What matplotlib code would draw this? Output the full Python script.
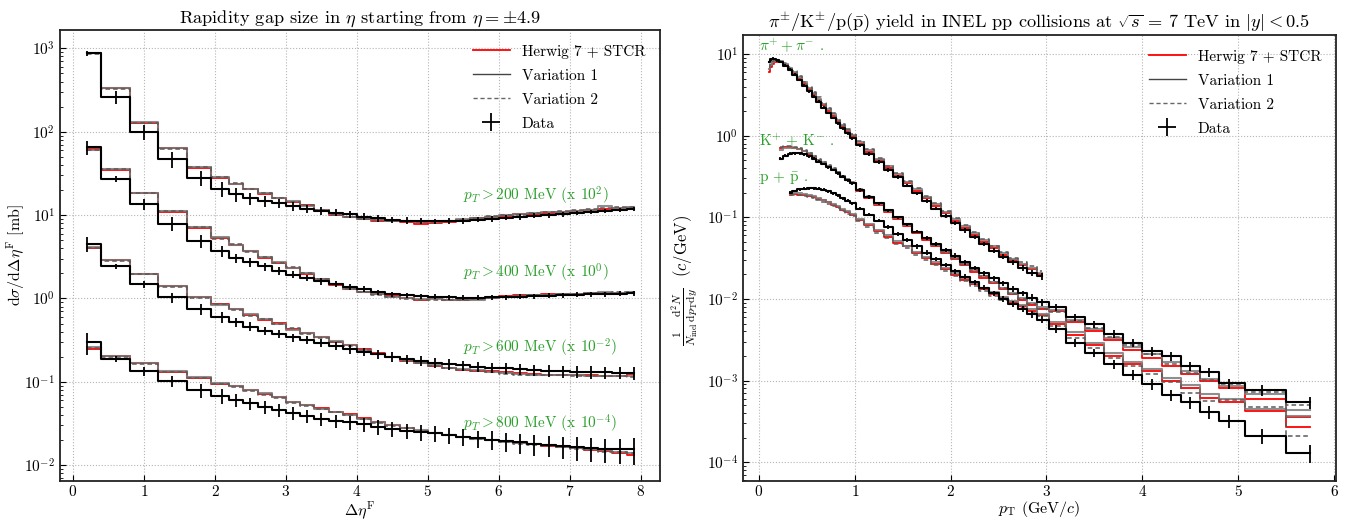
import matplotlib
matplotlib.use("Agg")
import matplotlib.pyplot as plt
from matplotlib.lines import Line2D
import numpy as np

plt.rcParams.update({
    'font.family': 'serif',
    'font.serif': ['cmr10'],
    'mathtext.fontset': 'cm',
    'axes.formatter.use_mathtext': True,
    'axes.unicode_minus': False,
})

# ---------------- left panel data ----------------
eta_centers = [0.2, 0.6, 1.0, 1.4, 1.8, 2.1, 2.3, 2.5, 2.7, 2.9, 3.1, 3.3, 3.5, 3.7, 3.9,
               4.1, 4.3, 4.5, 4.7, 4.9, 5.1, 5.3, 5.5, 5.7, 5.9, 6.1, 6.3, 6.5, 6.7, 6.9,
               7.1, 7.3, 7.5, 7.7, 7.9]

pt200_data = [870, 260, 100, 47, 28, 20.7, 17.7, 15.9, 14.8, 13.8, 12.8, 11.9, 11.2, 10.7, 10.2,
              9.6, 9.1, 8.8, 8.6, 8.5, 8.4, 8.5, 8.6, 8.8, 9.0, 9.3, 9.5, 9.8, 10.0, 10.3,
              10.6, 10.9, 11.2, 11.5, 11.8]
pt200_err = [0.08, 0.17, 0.21, 0.22, 0.2, 0.2, 0.18, 0.16, 0.15, 0.13, 0.12, 0.12, 0.11, 0.1, 0.1,
             0.1, 0.09, 0.09, 0.09, 0.09, 0.08, 0.08, 0.08, 0.07, 0.07, 0.07, 0.07, 0.07, 0.07, 0.07,
             0.06, 0.06, 0.06, 0.06, 0.06]
pt200_herwig = [880, 330, 128, 63, 37, 28, 23.5, 20.4, 18, 15.9, 14.4, 13.2, 11.4, 10.0, 9.5,
                8.9, 8.6, 8.5, 8.3, 7.9, 8.1, 8.3, 8.8, 9.3, 9.5, 9.8, 10.2, 10.3, 10.5, 10.9,
                11.3, 11.6, 11.8, 12.0, 12.2]
pt200_var1 = [870, 335, 130, 64, 38, 28.5, 23.8, 20.6, 18.2, 16.2, 14.6, 13.0, 11.6, 10.3, 9.6,
              9.0, 8.8, 8.6, 8.5, 8.3, 8.3, 8.5, 8.9, 9.2, 9.6, 10.0, 10.3, 10.6, 10.8, 11.0,
              11.3, 11.5, 13.0, 12.2, 12.4]
pt200_var2 = [860, 325, 126, 62, 37.5, 28.8, 24, 20.8, 18.3, 16, 14.5, 13.1, 11.5, 10.1, 9.5,
              8.9, 8.7, 8.6, 8.4, 8.2, 8.2, 8.4, 8.8, 9.2, 9.7, 9.9, 10.1, 10.5, 10.9, 11.2,
              11.5, 11.8, 12.1, 12.5, 12.5]

pt400_data = [65, 27.4, 13.7, 7.9, 4.9, 3.7, 3.06, 2.74, 2.43, 2.15, 1.93, 1.76, 1.6, 1.49, 1.37,
              1.29, 1.18, 1.12, 1.09, 1.07, 1.05, 1.04, 1.02, 1.02, 1.03, 1.04, 1.05, 1.07, 1.08, 1.1,
              1.11, 1.12, 1.13, 1.14, 1.15]
pt400_err = [0.2, 0.08, 0.15, 0.19, 0.17, 0.15, 0.13, 0.12, 0.11, 0.1, 0.1, 0.09, 0.09, 0.08, 0.08,
             0.08, 0.07, 0.07, 0.07, 0.07, 0.07, 0.07, 0.07, 0.07, 0.07, 0.07, 0.07, 0.07, 0.07, 0.07,
             0.07, 0.07, 0.07, 0.07, 0.07]
pt400_herwig = [62, 34.5, 18.2, 11.0, 7.0, 5.3, 4.35, 3.7, 3.06, 2.66, 2.3, 1.96, 1.69, 1.46, 1.29,
                1.18, 1.12, 1.06, 1.0, 0.97, 1.0, 0.97, 0.96, 0.99, 1.02, 1.08, 1.1, 1.1, 1.12, 1.13,
                1.14, 1.16, 1.16, 1.17, 1.17]
pt400_var1 = [61, 35.5, 18.6, 11.2, 7.1, 5.4, 4.4, 3.75, 3.1, 2.7, 2.3, 2.0, 1.72, 1.48, 1.31,
              1.2, 1.12, 1.05, 1.0, 0.98, 0.98, 0.96, 0.95, 0.97, 1.01, 1.05, 1.07, 1.09, 1.11, 1.13,
              1.14, 1.15, 1.19, 1.17, 1.18]
pt400_var2 = [60, 36, 18.4, 11.1, 7.2, 5.2, 4.5, 3.6, 3.15, 2.65, 2.35, 2.0, 1.7, 1.47, 1.3,
              1.19, 1.11, 1.04, 0.99, 0.96, 0.97, 0.95, 0.96, 0.98, 1.0, 1.04, 1.06, 1.09, 1.1, 1.12,
              1.14, 1.15, 1.17, 1.18, 1.19]

pt600_data = [4.5, 2.43, 1.49, 1.03, 0.75, 0.6, 0.52, 0.46, 0.41, 0.375, 0.34, 0.318, 0.29, 0.27, 0.248,
              0.23, 0.215, 0.2, 0.187, 0.178, 0.17, 0.163, 0.157, 0.152, 0.148, 0.145, 0.142, 0.139, 0.136, 0.134,
              0.132, 0.131, 0.13, 0.129, 0.127]
pt600_err = [0.2, 0.06, 0.1, 0.14, 0.15, 0.15, 0.13, 0.12, 0.12, 0.11, 0.11, 0.11, 0.11, 0.12, 0.12,
             0.12, 0.12, 0.13, 0.13, 0.13, 0.13, 0.14, 0.14, 0.14, 0.15, 0.15, 0.15, 0.15, 0.16, 0.16,
             0.16, 0.17, 0.17, 0.17, 0.18]
pt600_herwig = [4.0, 2.87, 1.96, 1.40, 1.05, 0.85, 0.75, 0.64, 0.55, 0.505, 0.43, 0.38, 0.34, 0.30, 0.28,
                0.245, 0.22, 0.2, 0.18, 0.166, 0.156, 0.148, 0.14, 0.135, 0.133, 0.13, 0.127, 0.124, 0.122, 0.121,
                0.12, 0.119, 0.118, 0.118, 0.125]
pt600_var1 = [4.1, 2.9, 1.98, 1.42, 1.04, 0.84, 0.74, 0.65, 0.56, 0.5, 0.42, 0.385, 0.345, 0.305, 0.275,
              0.24, 0.218, 0.198, 0.182, 0.17, 0.158, 0.147, 0.141, 0.137, 0.131, 0.127, 0.123, 0.122, 0.121, 0.12,
              0.119, 0.118, 0.118, 0.117, 0.117]
pt600_var2 = [4.0, 2.8, 1.95, 1.38, 1.02, 0.86, 0.72, 0.62, 0.56, 0.49, 0.44, 0.375, 0.335, 0.3, 0.27,
              0.242, 0.216, 0.196, 0.18, 0.167, 0.155, 0.146, 0.139, 0.136, 0.13, 0.124, 0.122, 0.121, 0.12, 0.119,
              0.118, 0.117, 0.116, 0.116, 0.115]

pt800_data = [0.30, 0.19, 0.133, 0.101, 0.079, 0.068, 0.06, 0.055, 0.05, 0.046, 0.042, 0.039, 0.036, 0.034, 0.033,
              0.031, 0.029, 0.0275, 0.026, 0.025, 0.024, 0.023, 0.022, 0.021, 0.0203, 0.0195, 0.0188, 0.0181, 0.0175, 0.0169,
              0.0164, 0.016, 0.0157, 0.0155, 0.0155]
pt800_err = [0.3, 0.08, 0.12, 0.15, 0.18, 0.2, 0.18, 0.17, 0.17, 0.17, 0.18, 0.18, 0.18, 0.18, 0.19,
             0.19, 0.2, 0.2, 0.2, 0.21, 0.22, 0.22, 0.23, 0.24, 0.25, 0.26, 0.27, 0.28, 0.29, 0.3,
             0.31, 0.32, 0.33, 0.34, 0.35]
pt800_herwig = [0.25, 0.204, 0.166, 0.132, 0.112, 0.095, 0.089, 0.079, 0.072, 0.066, 0.057, 0.053, 0.048, 0.044, 0.041,
                0.037, 0.033, 0.03, 0.028, 0.026, 0.0245, 0.023, 0.022, 0.021, 0.0202, 0.0193, 0.0185, 0.0178, 0.0172, 0.0166,
                0.016, 0.0153, 0.0147, 0.014, 0.0134]
pt800_var1 = [0.26, 0.206, 0.168, 0.134, 0.113, 0.096, 0.088, 0.08, 0.073, 0.065, 0.058, 0.052, 0.047, 0.044, 0.04,
              0.036, 0.033, 0.0305, 0.0282, 0.0262, 0.0245, 0.0232, 0.0218, 0.0208, 0.02, 0.0191, 0.0184, 0.0179, 0.0173, 0.0167,
              0.0161, 0.0156, 0.015, 0.0145, 0.014]
pt800_var2 = [0.255, 0.2, 0.165, 0.131, 0.11, 0.094, 0.087, 0.078, 0.07, 0.064, 0.056, 0.051, 0.047, 0.043, 0.04,
              0.036, 0.032, 0.0298, 0.0278, 0.0258, 0.0242, 0.0228, 0.0216, 0.0206, 0.0198, 0.0189, 0.0181, 0.0174, 0.0168, 0.0163,
              0.0157, 0.015, 0.0145, 0.0142, 0.0138]

gap_labels = [r"$p_T > 200$ MeV (x $10^{2}$)", r"$p_T > 400$ MeV (x $10^{0}$)",
              r"$p_T > 600$ MeV (x $10^{-2}$)", r"$p_T > 800$ MeV (x $10^{-4}$)"]
gap_label_y = [17.2, 2.04, 0.257, 0.0316]

# ---------------- right panel data ----------------
pi_pt = [0.11, 0.13, 0.15, 0.17, 0.19, 0.225, 0.275, 0.325, 0.375, 0.425, 0.475, 0.525, 0.575, 0.625,
         0.675, 0.725, 0.775, 0.825, 0.875, 0.925, 0.975, 1.05, 1.15, 1.25, 1.35, 1.45, 1.55, 1.65,
         1.75, 1.85, 1.95, 2.05, 2.15, 2.25, 2.35, 2.45, 2.55, 2.65, 2.75, 2.85, 2.95]
pi_data = [8.0, 8.6, 8.8, 8.7, 8.4, 8.0, 7.2, 6.4, 5.6, 4.8, 4.1, 3.5, 3.0, 2.6,
           2.2, 1.9, 1.65, 1.42, 1.23, 1.07, 0.93, 0.76, 0.6, 0.48, 0.38, 0.31, 0.245, 0.196,
           0.158, 0.128, 0.104, 0.085, 0.069, 0.057, 0.047, 0.039, 0.033, 0.028, 0.024, 0.021, 0.019]
pi_err = [0.04, 0.04, 0.04, 0.04, 0.04, 0.04, 0.04, 0.04, 0.04, 0.04, 0.04, 0.04, 0.04, 0.04,
          0.04, 0.04, 0.04, 0.04, 0.04, 0.04, 0.04, 0.05, 0.05, 0.05, 0.05, 0.05, 0.05, 0.05,
          0.05, 0.05, 0.06, 0.06, 0.06, 0.06, 0.06, 0.07, 0.07, 0.07, 0.08, 0.08, 0.09]
pi_herwig = [6.0, 7.0, 7.6, 7.9, 8.0, 7.9, 7.3, 6.6, 5.8, 5.0, 4.3, 3.7, 3.2, 2.75,
             2.35, 2.0, 1.75, 1.5, 1.3, 1.13, 0.98, 0.8, 0.63, 0.5, 0.4, 0.325, 0.26, 0.21,
             0.17, 0.138, 0.112, 0.091, 0.074, 0.061, 0.05, 0.042, 0.035, 0.03, 0.026, 0.023, 0.02]
pi_var1 = [6.6, 7.4, 7.9, 8.1, 8.2, 8.1, 7.5, 6.8, 6.0, 5.2, 4.5, 3.85, 3.3, 2.85,
           2.45, 2.1, 1.82, 1.57, 1.36, 1.18, 1.02, 0.83, 0.66, 0.52, 0.42, 0.34, 0.272, 0.22,
           0.178, 0.144, 0.117, 0.095, 0.078, 0.064, 0.053, 0.044, 0.037, 0.031, 0.027, 0.024, 0.021]
pi_var2 = [7.0, 7.8, 8.2, 8.4, 8.4, 8.3, 7.7, 7.0, 6.2, 5.4, 4.6, 3.95, 3.4, 2.95,
           2.52, 2.16, 1.87, 1.62, 1.4, 1.21, 1.05, 0.86, 0.68, 0.54, 0.43, 0.35, 0.28, 0.226,
           0.183, 0.148, 0.12, 0.098, 0.08, 0.066, 0.054, 0.045, 0.038, 0.032, 0.028, 0.025, 0.022]

k_pt = [0.225, 0.275, 0.325, 0.375, 0.425, 0.475, 0.525, 0.575, 0.625, 0.675, 0.725, 0.775, 0.825,
        0.875, 0.925, 0.975, 1.05, 1.15, 1.25, 1.35, 1.45, 1.55, 1.65, 1.75, 1.85, 1.95, 2.05, 2.15,
        2.25, 2.35, 2.45, 2.55, 2.65, 2.75, 2.85, 2.95, 3.1, 3.3, 3.5, 3.7, 3.9, 4.1, 4.3, 4.5,
        4.7, 4.9, 5.25, 5.75]
k_data = [0.52, 0.57, 0.60, 0.61, 0.61, 0.59, 0.56, 0.52, 0.48, 0.45, 0.41, 0.38, 0.345,
          0.315, 0.285, 0.26, 0.215, 0.178, 0.148, 0.122, 0.10, 0.082, 0.067, 0.056, 0.047, 0.040, 0.034, 0.028,
          0.024, 0.0205, 0.0178, 0.0155, 0.0134, 0.0117, 0.0104, 0.0091, 0.0079, 0.0060, 0.0049, 0.0037, 0.0029,
          0.0023, 0.0020, 0.0015, 0.00126, 0.00093, 0.00076, 0.00054]
k_err = [0.04, 0.04, 0.04, 0.04, 0.04, 0.04, 0.04, 0.04, 0.04, 0.04, 0.04, 0.04, 0.04,
         0.04, 0.04, 0.04, 0.05, 0.05, 0.05, 0.05, 0.05, 0.05, 0.05, 0.06, 0.06, 0.06, 0.06, 0.06,
         0.07, 0.07, 0.07, 0.08, 0.08, 0.08, 0.09, 0.09, 0.1, 0.1, 0.1, 0.11, 0.11, 0.12, 0.12, 0.13,
         0.13, 0.14, 0.15, 0.16]
k_herwig = [0.70, 0.72, 0.72, 0.70, 0.68, 0.64, 0.60, 0.55, 0.50, 0.46, 0.42, 0.385, 0.35,
            0.315, 0.285, 0.26, 0.212, 0.172, 0.142, 0.116, 0.095, 0.078, 0.064, 0.053, 0.044, 0.037, 0.031, 0.026,
            0.0215, 0.018, 0.0155, 0.0132, 0.0114, 0.0098, 0.0085, 0.0076, 0.0071, 0.0052, 0.0040, 0.0031, 0.0024,
            0.0019, 0.0015, 0.0012, 0.00098, 0.00080, 0.00060, 0.00036]
k_var1 = [0.66, 0.70, 0.71, 0.70, 0.68, 0.65, 0.61, 0.56, 0.51, 0.47, 0.43, 0.39, 0.355,
          0.32, 0.29, 0.265, 0.216, 0.176, 0.145, 0.119, 0.098, 0.080, 0.066, 0.055, 0.046, 0.038, 0.032, 0.027,
          0.0225, 0.019, 0.016, 0.0138, 0.0118, 0.0102, 0.0089, 0.0079, 0.0073, 0.0055, 0.0043, 0.0033, 0.0026,
          0.0021, 0.0017, 0.0013, 0.00105, 0.00086, 0.00068, 0.00044]
k_var2 = [0.72, 0.74, 0.74, 0.72, 0.70, 0.66, 0.62, 0.57, 0.52, 0.48, 0.44, 0.40, 0.36,
          0.325, 0.295, 0.268, 0.22, 0.18, 0.148, 0.121, 0.1, 0.082, 0.067, 0.055, 0.046, 0.038, 0.032, 0.027,
          0.0225, 0.019, 0.016, 0.0136, 0.0116, 0.0099, 0.0086, 0.0076, 0.0070, 0.0054, 0.0044, 0.0034, 0.0027,
          0.0021, 0.0016, 0.00125, 0.00102, 0.00090, 0.00073, 0.00050]

p_pt = [0.325, 0.375, 0.425, 0.475, 0.525, 0.575, 0.625, 0.675, 0.725, 0.775, 0.825, 0.875,
        0.925, 0.975, 1.05, 1.15, 1.25, 1.35, 1.45, 1.55, 1.65, 1.75, 1.85, 1.95, 2.05, 2.15,
        2.25, 2.35, 2.45, 2.55, 2.65, 2.75, 2.85, 2.95, 3.1, 3.3, 3.5, 3.7, 3.9, 4.1, 4.3, 4.5,
        4.7, 4.9, 5.25, 5.75]
p_data = [0.20, 0.21, 0.22, 0.225, 0.228, 0.228, 0.225, 0.218, 0.208, 0.197, 0.185, 0.172,
          0.16, 0.148, 0.128, 0.108, 0.091, 0.076, 0.063, 0.053, 0.044, 0.037, 0.031, 0.026, 0.022, 0.0188,
          0.016, 0.0137, 0.0117, 0.0101, 0.0087, 0.0075, 0.0065, 0.0056, 0.0043, 0.0029, 0.0022, 0.0016, 0.00117,
          0.00091, 0.00067, 0.00054, 0.00041, 0.00032, 0.00021, 0.00013]
p_err = [0.04, 0.04, 0.04, 0.04, 0.04, 0.04, 0.04, 0.04, 0.04, 0.04, 0.04, 0.04,
         0.04, 0.04, 0.05, 0.05, 0.05, 0.05, 0.05, 0.05, 0.06, 0.06, 0.06, 0.06, 0.07, 0.07,
         0.07, 0.07, 0.08, 0.08, 0.08, 0.09, 0.09, 0.1, 0.1, 0.11, 0.12, 0.13, 0.14, 0.15, 0.16, 0.17,
         0.18, 0.19, 0.21, 0.25]
p_herwig = [0.19, 0.193, 0.19, 0.187, 0.182, 0.175, 0.168, 0.161, 0.152, 0.142, 0.133, 0.124,
            0.115, 0.107, 0.093, 0.08, 0.068, 0.058, 0.049, 0.044, 0.037, 0.032, 0.027, 0.023, 0.0198, 0.0172,
            0.0151, 0.0131, 0.0116, 0.0102, 0.0091, 0.0081, 0.0072, 0.0064, 0.0050, 0.0036, 0.0027, 0.0020, 0.0016,
            0.0013, 0.0010, 0.00080, 0.00062, 0.00055, 0.00042, 0.00027]
p_var1 = [0.195, 0.198, 0.196, 0.192, 0.187, 0.18, 0.173, 0.165, 0.156, 0.146, 0.137, 0.128,
          0.119, 0.11, 0.096, 0.083, 0.07, 0.06, 0.051, 0.045, 0.038, 0.033, 0.028, 0.024, 0.0205, 0.0178,
          0.0156, 0.0136, 0.012, 0.0106, 0.0094, 0.0084, 0.0075, 0.0066, 0.0052, 0.0039, 0.0029, 0.0022, 0.0017,
          0.0014, 0.00108, 0.00088, 0.00068, 0.00060, 0.00045, 0.00037]
p_var2 = [0.185, 0.188, 0.186, 0.182, 0.176, 0.17, 0.163, 0.155, 0.147, 0.138, 0.129, 0.12,
          0.111, 0.103, 0.089, 0.077, 0.065, 0.055, 0.047, 0.042, 0.035, 0.030, 0.026, 0.022, 0.0189, 0.0164,
          0.0144, 0.0125, 0.011, 0.0097, 0.0086, 0.0077, 0.0068, 0.0061, 0.0047, 0.0033, 0.0025, 0.0019, 0.0015,
          0.0012, 0.00095, 0.00070, 0.00056, 0.00058, 0.00048, 0.00021]

species_labels = [r"$\pi^{+} + \pi^{-}$ .", r"K$^{+}$ + K$^{-}$ .", r"p + $\bar{\mathrm{p}}$ ."]
species_label_y = [13.0, 0.88, 0.30]

# ---------------- styling ----------------
RED = '#ff0000'
V1 = '#7a7a7a'
V2 = '#5a5a5a'
GREEN = '#2ca02c'
FS = 11


def draw_series(ax, x, data, err, herwig, var1, var2):
    ax.step(x, herwig, where='mid', color=RED, lw=1.3, zorder=2)
    ax.step(x, var1, where='mid', color=V1, lw=1.5, alpha=0.85, zorder=3)
    ax.step(x, var2, where='mid', color=V2, lw=1.1, ls=(0, (3, 2)), zorder=4)
    ax.step(x, data, where='mid', color='black', lw=1.5, zorder=5)
    d = np.asarray(data)
    ax.errorbar(x, d, yerr=d * np.asarray(err), fmt='none', ecolor='black',
                elinewidth=1.3, capsize=0, zorder=6)


def style_axes(ax):
    ax.set_yscale('log')
    ax.grid(True, which='major', ls=':', color='#b5b5b5', lw=0.8)
    ax.tick_params(which='both', direction='in', labelsize=FS, top=False, right=False)
    ax.tick_params(axis='x', pad=2.5)
    ax.tick_params(which='major', length=4)
    ax.tick_params(which='minor', length=2.5)
    for s in ax.spines.values():
        s.set_linewidth(1.3)
        s.set_color('#222222')
    ax.set_axisbelow(True)


legend_handles = [
    Line2D([], [], color=RED, lw=1.3),
    Line2D([], [], color='#444444', lw=1.0),
    Line2D([], [], color='#666666', lw=1.0, ls=(0, (3, 2))),
    Line2D([], [], color='black', marker='+', ms=13, mew=1.3, ls='none'),
]
legend_labels = ["Herwig 7 + STCR", "Variation 1", "Variation 2", "Data"]

W, H = 1351, 521
fig = plt.figure(figsize=(W / 100, H / 100), dpi=100)
axL = fig.add_axes([60 / W, 1 - 481 / H, 600 / W, 451 / H])
axR = fig.add_axes([743 / W, 1 - 481 / H, 593 / W, 446 / H])

# left panel
series_left = [
    (pt200_data, pt200_err, pt200_herwig, pt200_var1, pt200_var2),
    (pt400_data, pt400_err, pt400_herwig, pt400_var1, pt400_var2),
    (pt600_data, pt600_err, pt600_herwig, pt600_var1, pt600_var2),
    (pt800_data, pt800_err, pt800_herwig, pt800_var1, pt800_var2),
]
for (d, e, h, v1, v2), lab, ly in zip(series_left, gap_labels, gap_label_y):
    draw_series(axL, eta_centers, d, e, h, v1, v2)
    axL.text(5.5, ly, lab, color=GREEN, fontsize=FS, ha='left', va='center')
style_axes(axL)
axL.set_xlim(-0.183, 8.27)
axL.set_ylim(10 ** -2.19, 10 ** 3.22)
axL.set_xticks(range(0, 9))
axL.set_xlabel(r"$\Delta\eta^{\mathrm{F}}$", fontsize=11.5, labelpad=0)
axL.set_ylabel(r"$\mathrm{d}\sigma/\mathrm{d}\Delta\eta^{\mathrm{F}}$ [mb]", fontsize=11.5)
axL.yaxis.set_label_coords(-0.055, 0.5)
axL.set_title(r"Rapidity gap size in $\eta$ starting from $\eta = \pm 4.9$", fontsize=13.2, pad=5)
axL.legend(legend_handles, legend_labels, loc='upper right', frameon=False, fontsize=FS,
           handlelength=2.4, labelspacing=0.68, borderaxespad=0.55)

# right panel
series_right = [
    (pi_pt, pi_data, pi_err, pi_herwig, pi_var1, pi_var2),
    (k_pt, k_data, k_err, k_herwig, k_var1, k_var2),
    (p_pt, p_data, p_err, p_herwig, p_var1, p_var2),
]
for (x, d, e, h, v1, v2), lab, ly in zip(series_right, species_labels, species_label_y):
    draw_series(axR, x, d, e, h, v1, v2)
    axR.text(0.0, ly, lab, color=GREEN, fontsize=FS, ha='left', va='center')
style_axes(axR)
axR.set_xlim(-0.166, 6.02)
axR.set_ylim(10 ** -4.23, 10 ** 1.233)
axR.set_xticks(range(0, 7))
axR.set_xlabel(r"$p_{\mathrm{T}}$ (GeV/$c$)", fontsize=11.5, labelpad=0)
axR.set_ylabel(r"$\frac{1}{N_{\mathrm{inel}}}\frac{\mathrm{d}^{2}N}{\mathrm{d}p_{\mathrm{T}}\mathrm{d}y}$  $(c/\mathrm{GeV})$",
               fontsize=12)
axR.yaxis.set_label_coords(-0.072, 0.45)
axR.set_title(r"$\pi^{\pm}$/K$^{\pm}$/p($\bar{\mathrm{p}}$) yield in INEL pp collisions at $\sqrt{s}$ = 7 TeV in $|y| < 0.5$",
              fontsize=13.2, pad=5)
axR.legend(legend_handles, legend_labels, loc='upper right', frameon=False, fontsize=FS,
           handlelength=2.4, labelspacing=0.68, borderaxespad=0.55)

fig.savefig("out.png", dpi=100)
